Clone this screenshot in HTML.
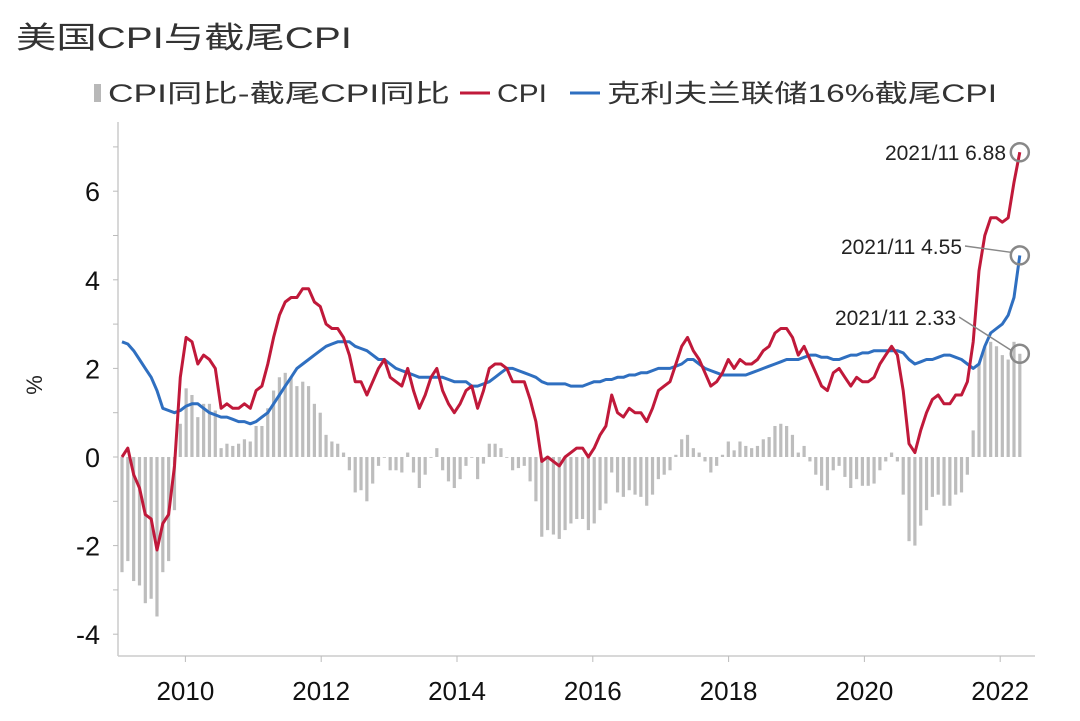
<!DOCTYPE html>
<html><head><meta charset="utf-8"><style>
body{margin:0;background:#fff;}
svg{display:block;font-family:"Liberation Sans","Noto Sans CJK SC",sans-serif;}
.n{font-family:"Liberation Sans Narrow","Liberation Sans",sans-serif;}
</style></head><body>
<svg id="chart" width="1080" height="721" viewBox="0 0 1080 721">
<text x="16" y="48" font-size="30" fill="#333" textLength="336" lengthAdjust="spacingAndGlyphs">美国CPI与截尾CPI</text>
<g>
<g><rect x="94" y="84" width="7" height="18" fill="#b8b8b8"/><text x="108" y="102" font-size="25" fill="#333" textLength="342" lengthAdjust="spacingAndGlyphs">CPI同比-截尾CPI同比</text></g>
<g><line x1="460" y1="93" x2="490" y2="93" stroke="#c0193a" stroke-width="3"/><text x="497" y="102" font-size="25" fill="#333" textLength="50" lengthAdjust="spacingAndGlyphs">CPI</text></g>
<g><line x1="570" y1="93" x2="600" y2="93" stroke="#2f6fc0" stroke-width="3"/><text x="607" y="102" font-size="25" fill="#333" textLength="390" lengthAdjust="spacingAndGlyphs">克利夫兰联储16%截尾CPI</text></g>
</g>
<text transform="translate(42,385) rotate(-90)" font-size="22" fill="#222" text-anchor="middle">%</text>
<g id="axes"></g>
<g id="bars"></g>
<g id="lines"></g>
<g id="ann"></g>
</svg>
<script>
const cpi=[0.0,0.2,-0.4,-0.7,-1.3,-1.4,-2.1,-1.5,-1.3,-0.2,1.8,2.7,
2.6,2.1,2.3,2.2,2.0,1.1,1.2,1.1,1.1,1.2,1.1,1.5,
1.6,2.1,2.7,3.2,3.5,3.6,3.6,3.8,3.8,3.5,3.4,3.0,
2.9,2.9,2.7,2.3,1.7,1.7,1.4,1.7,2.0,2.2,1.8,1.7,
1.6,2.0,1.5,1.1,1.4,1.8,2.0,1.5,1.2,1.0,1.2,1.5,
1.6,1.1,1.5,2.0,2.1,2.1,2.0,1.7,1.7,1.7,1.3,0.8,
-0.1,0.0,-0.1,-0.2,0.0,0.1,0.2,0.2,0.0,0.2,0.5,0.7,
1.4,1.0,0.9,1.1,1.0,1.0,0.8,1.1,1.5,1.6,1.7,2.1,
2.5,2.7,2.4,2.2,1.9,1.6,1.7,1.9,2.2,2.0,2.2,2.1,
2.1,2.2,2.4,2.5,2.8,2.9,2.9,2.7,2.3,2.5,2.2,1.9,
1.6,1.5,1.9,2.0,1.8,1.6,1.8,1.7,1.7,1.8,2.1,2.3,
2.5,2.3,1.5,0.3,0.1,0.6,1.0,1.3,1.4,1.2,1.2,1.4,
1.4,1.7,2.6,4.2,5.0,5.4,5.4,5.3,5.4,6.2,6.88];
const trimmed=[2.6,2.55,2.4,2.2,2.0,1.8,1.5,1.1,1.05,1.0,1.05,1.15,
1.2,1.2,1.1,1.0,0.95,0.9,0.9,0.85,0.8,0.8,0.75,0.8,
0.9,1.0,1.2,1.4,1.6,1.8,2.0,2.1,2.2,2.3,2.4,2.5,
2.55,2.6,2.6,2.6,2.5,2.45,2.4,2.3,2.2,2.2,2.1,2.0,
1.95,1.9,1.85,1.8,1.8,1.8,1.8,1.8,1.75,1.7,1.7,1.7,
1.6,1.6,1.65,1.7,1.8,1.9,2.0,2.0,1.95,1.9,1.85,1.8,
1.7,1.65,1.65,1.65,1.65,1.6,1.6,1.6,1.65,1.7,1.7,1.75,
1.75,1.8,1.8,1.85,1.85,1.9,1.9,1.95,2.0,2.0,2.0,2.05,
2.1,2.2,2.2,2.1,2.0,1.95,1.9,1.85,1.85,1.85,1.85,1.85,
1.9,1.95,2.0,2.05,2.1,2.15,2.2,2.2,2.2,2.25,2.3,2.3,
2.25,2.25,2.2,2.2,2.25,2.3,2.3,2.35,2.35,2.4,2.4,2.4,
2.4,2.4,2.35,2.2,2.1,2.15,2.2,2.2,2.25,2.3,2.3,2.25,
2.2,2.1,2.0,2.1,2.5,2.8,2.9,3.0,3.2,3.6,4.55];
const yTicks=[-4,-2,0,2,4,6];
const xTicks=[2010,2012,2014,2016,2018,2020,2022];
const NS="http://www.w3.org/2000/svg";
function xs(t){return 117.5+(t-2009)*67.9;}
function mx(i){return 122+i*5.83;}
function ys(v){return 457-v*44.3;}
function mk(tag,attrs,parent){const e=document.createElementNS(NS,tag);for(const k in attrs)e.setAttribute(k,attrs[k]);parent.appendChild(e);return e;}
const axes=document.getElementById('axes');
let a=mk('line',{x1:118,y1:122,x2:118,y2:656,stroke:'#ccc','stroke-width':1.5},axes);


a=mk('line',{x1:118,y1:656,x2:1035,y2:656,stroke:'#ccc','stroke-width':1.5},axes);


for(let v=-4;v<=7;v++){mk('line',{x1:113,y1:ys(v),x2:118,y2:ys(v),stroke:'#bbb'},axes);}
yTicks.forEach(v=>{const t=mk('text',{x:100,y:ys(v)+10,'font-size':27,'text-anchor':'end',fill:'#111'},axes);t.textContent=v;

});
xTicks.forEach(y=>{mk('line',{x1:xs(y),y1:656,x2:xs(y),y2:662,stroke:'#bbb'},axes);
const t=mk('text',{x:xs(y),y:700,'font-size':26,'text-anchor':'middle',fill:'#111','class':'n'},axes);t.textContent=y;

});
const bars=document.getElementById('bars');
cpi.forEach((c,i)=>{const d=c-trimmed[i];const y0=ys(0),y1=ys(d);
const r=mk('rect',{x:mx(i)-1.6,y:Math.min(y0,y1),width:3.2,height:Math.max(0.8,Math.abs(y1-y0)),fill:'#bdbdbd'},bars);

});
const lines=document.getElementById('lines');
function path(arr,col,name){const d=arr.map((v,i)=>(i?'L':'M')+mx(i).toFixed(1)+','+ys(v).toFixed(1)).join('');
const p=mk('path',{d:d,fill:'none',stroke:col,'stroke-width':3,'stroke-linejoin':'round'},lines);

}
path(trimmed,'#2f6fc0','trimmed-cpi-line');
path(cpi,'#c0193a','cpi-line');
const ann=document.getElementById('ann');
const last=cpi.length-1;const lx=mx(last);
const annVals=[cpi[last],trimmed[last],cpi[last]-trimmed[last]];
const annLabelY=[160,254,325];const annLabelX=[1006,962,956];
annVals.forEach((v,k)=>{const cy=ys(v);
const c=mk('circle',{cx:lx,cy:cy,r:9,fill:'none',stroke:'#888','stroke-width':2.5},ann);


if(k>0)mk('line',{x1:annLabelX[k]+3,y1:annLabelY[k]-8,x2:lx-8,y2:cy-3,stroke:'#888','stroke-width':1.5},ann);
const t=mk('text',{x:annLabelX[k],y:annLabelY[k],'font-size':21,'text-anchor':'end',fill:'#222','class':'n'},ann);
t.textContent='2021/11 '+v.toFixed(2);

});
</script>
</body></html>
